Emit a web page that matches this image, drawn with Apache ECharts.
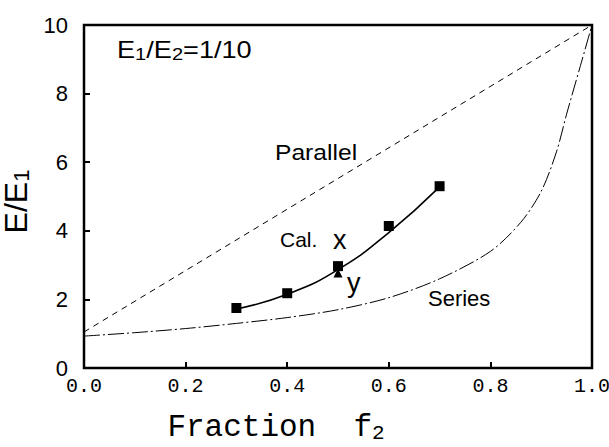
<!DOCTYPE html>
<html>
<head>
<meta charset="utf-8">
<script src="https://cdn.jsdelivr.net/npm/echarts@6/dist/echarts.min.js"></script>
<style>
  html, body { margin: 0; padding: 0; background: #fff; }
  #chart { width: 609px; height: 447px; }
</style>
</head>
<body>
<div id="chart"></div>
<script>
(function() {
  var ink = '#000';
  var mono = '"Liberation Mono", "DejaVu Sans Mono", monospace';
  var sans = '"Liberation Sans", "DejaVu Sans", sans-serif';

  // tick labels
  var xTicks = [0, 0.2, 0.4, 0.6, 0.8, 1.0];
  var yTicks = [0, 2, 4, 6, 8, 10];

  // measured points (squares = x, triangle = y)
  var measX = [[0.3, 1.75], [0.4, 2.18], [0.5, 2.97], [0.6, 4.14], [0.7, 5.3]];
  var measY = [[0.5, 2.77]];

  // calculated curve through the points
  var calLine = [[0.3, 1.72], [0.4, 2.15], [0.5, 2.87], [0.6, 3.95], [0.7, 5.28]];

  // upper bound (parallel) and lower bound (series)
  var parallel = [[0, 1.05], [1.0, 10]];
  var seriesBound = [[0, 0.93], [0.1, 1.03], [0.2, 1.15], [0.3, 1.3], [0.4, 1.47], [0.5, 1.7],
    [0.6, 2.05], [0.7, 2.6], [0.8, 3.4], [0.86, 4.25], [0.9, 5.15], [0.93, 6.3], [0.95, 7.4],
    [0.976, 8.75], [1.0, 10]];

  var chart = echarts.init(document.getElementById('chart'), null, { renderer: 'svg' });
  chart.setOption({
    animation: false,
    backgroundColor: '#fff',
    grid: {
      left: 84, right: 17, top: 25, bottom: 79, outerBoundsMode: 'none',
      show: true, borderColor: ink, borderWidth: 2.5
    },
    xAxis: {
      type: 'value', min: 0, max: 1, interval: 0.2,
      name: '{n|Fraction  f}{s|2}', nameLocation: 'middle', nameGap: 42,
      nameTextStyle: {
        padding: [0, 124, 0, 0],
        rich: {
          n: { fontFamily: mono, fontSize: 31, lineHeight: 34, color: ink },
          s: { fontFamily: mono, fontSize: 21, lineHeight: 22, color: ink, verticalAlign: 'bottom' }
        }
      },
      axisLine: { show: false },
      axisTick: { inside: true, length: 6, lineStyle: { color: ink, width: 2 } },
      splitLine: { show: false },
      axisLabel: {
        color: ink, fontFamily: mono, fontSize: 20, margin: 8,
        formatter: function(v) { return v.toFixed(1); }
      }
    },
    yAxis: {
      type: 'value', min: 0, max: 10, interval: 2,
      name: '{n|E/E}{s|1}', nameLocation: 'middle', nameGap: 30, nameRotate: 90,
      nameTextStyle: {
        padding: [0, 10, 0, 0],
        rich: {
          n: { fontFamily: sans, fontSize: 32, lineHeight: 34, color: ink },
          s: { fontFamily: sans, fontSize: 22, lineHeight: 24, color: ink, verticalAlign: 'bottom' }
        }
      },
      axisLine: { show: false },
      axisTick: { inside: true, length: 6, lineStyle: { color: ink, width: 2 } },
      splitLine: { show: false },
      axisLabel: { color: ink, fontFamily: sans, fontSize: 22, margin: 16 }
    },
    series: [
      {
        type: 'line', data: parallel, symbol: 'none', silent: true,
        lineStyle: { color: ink, width: 1, type: [6, 5] }
      },
      {
        type: 'line', data: seriesBound, symbol: 'none', smooth: 0.3, silent: true,
        lineStyle: { color: ink, width: 1, type: [16, 3, 2, 3] }
      },
      {
        type: 'line', data: calLine, symbol: 'none', smooth: true, silent: true,
        lineStyle: { color: ink, width: 1.6 }
      },
      {
        type: 'scatter', data: measY, symbol: 'triangle', symbolSize: 9,
        itemStyle: { color: ink, opacity: 1 }
      },
      {
        type: 'scatter', data: measX, symbol: 'rect', symbolSize: 10,
        itemStyle: { color: ink, opacity: 1 }
      }
    ],
    graphic: [
      {
        type: 'text', x: 117, y: 37, scaleX: 1.18,
        style: {
          text: '{n|E}{s|1}{n|/E}{s|2}{n|=1/10}',
          verticalAlign: 'top',
          rich: {
            n: { fontFamily: sans, fontSize: 23, lineHeight: 26, fill: ink },
            s: { fontFamily: sans, fontSize: 17, lineHeight: 18, fill: ink, verticalAlign: 'bottom' }
          }
        }
      },
      { type: 'text', x: 275, y: 141, scaleX: 1.12, style: { text: 'Parallel', font: '22px ' + sans, fill: ink, verticalAlign: 'top' } },
      { type: 'text', x: 280, y: 229, style: { text: 'Cal.', font: '21px ' + sans, fill: ink, verticalAlign: 'top' } },
      { type: 'text', x: 333, y: 226, style: { text: 'x', font: '27px ' + sans, fill: ink, verticalAlign: 'top' } },
      { type: 'text', x: 347, y: 269, style: { text: 'y', font: '27px ' + sans, fill: ink, verticalAlign: 'top' } },
      { type: 'text', x: 428, y: 287, style: { text: 'Series', font: '22px ' + sans, fill: ink, verticalAlign: 'top' } }
    ]
  });

  window.addEventListener('resize', function() { chart.resize(); });
})();
</script>
</body>
</html>
